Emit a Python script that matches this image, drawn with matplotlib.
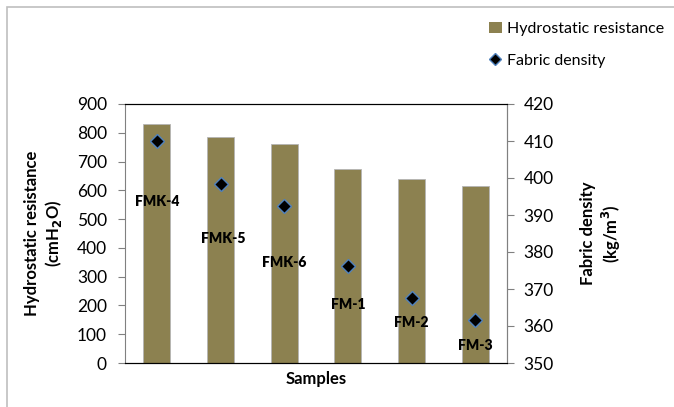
import matplotlib
matplotlib.use("Agg")
import matplotlib.pyplot as plt
from matplotlib.lines import Line2D
from matplotlib.patches import Patch, Rectangle

samples = ["FMK-4", "FMK-5", "FMK-6", "FM-1", "FM-2", "FM-3"]
hydrostatic = [829, 786, 760, 675, 639, 616]
density = [410.0, 398.5, 392.4, 376.2, 367.6, 361.6]

# label offsets below the diamonds (pixels)
label_dx = [0, 3, 0, 0, 0, 0]
label_dy = [-61, -55, -56, -38, -25, -25]

plt.rcParams['font.family'] = ['Lato', 'DejaVu Sans']
bar_color = "#8C8150"
W, H = 674, 407
fig = plt.figure(figsize=(W / 100, H / 100), dpi=100)

# outer frame
fig.patches.append(Rectangle((7 / W, -0.1), 1.2, 1 - 7 / H + 0.1, transform=fig.transFigure,
                             fill=False, edgecolor="#BFBFBF", linewidth=1.2))

left, right, top, bottom = 125, 507, 104, 363
ax = fig.add_axes([left / W, 1 - bottom / H, (right - left) / W, (bottom - top) / H])
x = list(range(len(samples)))
ax.bar(x, hydrostatic, width=0.42, color=bar_color, edgecolor="#B5B5B5", linewidth=0.6, zorder=2)
ax.set_xlim(-0.5, len(samples) - 0.5)
ax.set_ylim(0, 900)
ax.set_yticks(range(0, 901, 100))
ax.set_xticks([])
ax.tick_params(axis='y', labelsize=12.5, color="#808080", length=5, direction='out', pad=8)
for s in ["left", "right"]:
    ax.spines[s].set_color("#808080")
for s in ["top", "bottom"]:
    ax.spines[s].set_color("#000000")
ax.set_ylabel("Hydrostatic resistance\n(cmH$_\\mathbf{2}$O)", fontsize=12, fontweight='bold', labelpad=9)
ax.set_xlabel("Samples", fontsize=12, fontweight='bold', labelpad=6)

ax2 = ax.twinx()
ax2.set_ylim(350, 420)
ax2.set_yticks(range(350, 421, 10))
ax2.tick_params(axis='y', labelsize=12.5, color="#808080", length=5, direction='out', pad=7)
ax2.spines["right"].set_color("#808080")
ax2.spines["left"].set_visible(False)
ax2.spines["top"].set_color("#000000")
ax2.spines["bottom"].set_color("#000000")
ax2.plot(x, density, linestyle='none', marker='D', markersize=7, markerfacecolor='black',
         markeredgecolor='#4F81BD', markeredgewidth=1.0, zorder=3)
ax2.set_ylabel("Fabric density\n(kg/m$^\\mathbf{3}$)", fontsize=12, fontweight='bold', labelpad=19)

for xi, yi, lab, dx, dy in zip(x, density, samples, label_dx, label_dy):
    ax2.annotate(lab, (xi, yi), xytext=(dx, dy), textcoords='offset pixels',
                 ha='center', va='center', fontsize=10, fontweight='heavy', color='black')

handles = [Patch(facecolor=bar_color, edgecolor='none'),
           Line2D([], [], linestyle='none', marker='D', markersize=6, markerfacecolor='black',
                  markeredgecolor='#4F81BD')]
fig.legend(handles, ["Hydrostatic resistance", "Fabric density"], loc='upper left',
           bbox_to_anchor=(481 / W, 1 - 14 / H), frameon=False, fontsize=11.5,
           handlelength=0.8, handletextpad=0.3, labelspacing=1.1, borderpad=0)

fig.savefig("out.png", dpi=100)
